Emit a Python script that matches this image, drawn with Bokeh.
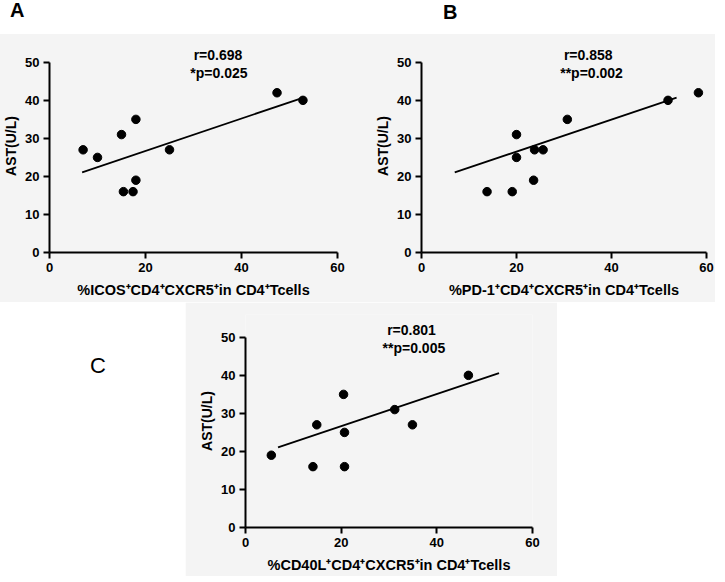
from bokeh.plotting import figure
from bokeh.models import Range1d, FixedTicker, Label, Div, Spacer
from bokeh.layouts import row, column
from bokeh.embed import file_html
from bokeh.resources import INLINE

# ---------------- data ----------------
a_x = [7.0, 10.0, 15.0, 18.0, 15.4, 17.4, 18.0, 25.0, 47.4, 52.8]
a_y = [27, 25, 31, 35, 16, 16, 19, 27, 42, 40]
a_fit_x = [6.8, 52.6]
a_fit_y = [21.05, 40.6]
a_stats = ["r=0.698", "*p=0.025"]
a_xlabel = "%ICOS\u207aCD4\u207aCXCR5\u207ain CD4\u207aTcells"

b_x = [13.8, 19.1, 20.0, 20.0, 23.6, 23.8, 25.6, 30.7, 51.9, 58.3]
b_y = [16, 16, 31, 25, 19, 27, 27, 35, 40, 42]
b_fit_x = [7.0, 53.7]
b_fit_y = [21.05, 40.7]
b_stats = ["r=0.858", "**p=0.002"]
b_xlabel = "%PD-1\u207aCD4\u207aCXCR5\u207ain CD4\u207aTcells"

c_x = [5.4, 14.1, 14.9, 20.5, 20.7, 20.7, 31.2, 34.9, 46.6]
c_y = [19, 16, 27, 35, 25, 16, 31, 27, 40]
c_fit_x = [6.8, 53.0]
c_fit_y = [21.05, 40.6]
c_stats = ["r=0.801", "**p=0.005"]
c_xlabel = "%CD40L\u207aCD4\u207aCXCR5\u207ain CD4\u207aTcells"

y_label = "AST(U/L)"
x_ticks = [0, 20, 40, 60]
y_ticks = [0, 10, 20, 30, 40, 50]
panel_letters = ["A", "B", "C"]

FONT = "Liberation Sans"
BG = "#f4f4f4"


def make_panel(xs, ys, fx, fy, stats, stat_x, xlabel,
               frame_w, mb_left, mb_right, mb_top, mb_bottom):
    p = figure(output_backend="svg", toolbar_location=None,
               frame_width=frame_w, frame_height=213,
               min_border_left=mb_left, min_border_right=mb_right,
               min_border_top=mb_top, min_border_bottom=mb_bottom,
               x_range=Range1d(0, 60), y_range=Range1d(0, 56),
               background_fill_color=BG, border_fill_color=BG,
               outline_line_color=None)
    p.xgrid.visible = False
    p.ygrid.visible = False
    p.xaxis.ticker = FixedTicker(ticks=x_ticks)
    p.yaxis.ticker = FixedTicker(ticks=y_ticks)
    p.xaxis.bounds = (0, 60)
    p.yaxis.bounds = (0, 50)
    for ax in (p.xaxis, p.yaxis):
        ax.axis_line_width = 2
        ax.axis_line_color = "black"
        ax.major_tick_line_width = 2
        ax.major_tick_line_color = "black"
        ax.major_tick_out = 6
        ax.major_tick_in = 0
        ax.minor_tick_out = 0
        ax.minor_tick_in = 0
        ax.major_label_text_font = FONT
        ax.major_label_text_font_style = "bold"
        ax.major_label_text_font_size = "13px"
        ax.major_label_text_color = "black"
        ax.major_label_standoff = 4
        ax.axis_label_text_font = FONT
        ax.axis_label_text_font_style = "bold"
        ax.axis_label_text_color = "black"
    p.xaxis.axis_label = xlabel
    p.xaxis.axis_label_text_font_size = "14.5px"
    p.xaxis.axis_label_standoff = 7
    p.yaxis.axis_label = y_label
    p.yaxis.axis_label_text_font_size = "14px"
    p.yaxis.axis_label_standoff = 3

    p.line(fx, fy, line_color="black", line_width=1.8)
    p.scatter(xs, ys, size=8.5, fill_color="black", line_color="black")

    p.add_layout(Label(x=stat_x[0], y=51.9, text=stats[0], text_align="center",
                       text_baseline="middle", text_font=FONT,
                       text_font_style="bold", text_font_size="14px",
                       text_color="black"))
    p.add_layout(Label(x=stat_x[1], y=47.2, text=stats[1], text_align="center",
                       text_baseline="middle", text_font=FONT,
                       text_font_style="bold", text_font_size="14px",
                       text_color="black"))
    return p


pa = make_panel(a_x, a_y, a_fit_x, a_fit_y, a_stats, (35.1, 35.3), a_xlabel,
                288, 43, 23, 5, 50)
pb = make_panel(b_x, b_y, b_fit_x, b_fit_y, b_stats, (35.1, 35.8), b_xlabel,
                285, 61, 9, 5, 50)
pc = make_panel(c_x, c_y, c_fit_x, c_fit_y, c_stats, (34.7, 35.2), c_xlabel,
                287, 60, 25, 12, 49)


def letter_div(txt, w, h, left, top, size, weight):
    html = ('<div style="margin-left:%dpx; margin-top:%dpx; font-family:\'Liberation Sans\', Arial, sans-serif; '
            'font-size:%dpx; font-weight:%s; line-height:1; color:black;">%s</div>'
            % (left, top, size, weight, txt))
    return Div(text=html, width=w, height=h)


div_a = letter_div(panel_letters[0], 354, 24, 5, -5, 20, "bold")
div_b = letter_div(panel_letters[1], 355, 24, 74, -3, 20, "bold")
div_c = letter_div(panel_letters[2], 175, 274, 85, 48, 22, "normal")

layout = column(
    row(div_a, div_b),
    row(pa, pb, styles={"background-color": BG}),
    row(div_c, pc, Spacer(width=162, height=274)),
)

open("out.html", "w").write(file_html(layout, INLINE))
